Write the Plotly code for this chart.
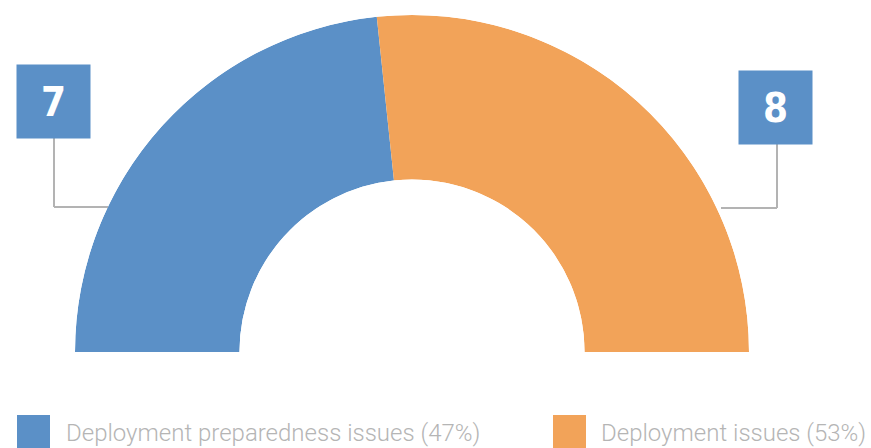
import plotly.graph_objects as go

# Data
categories = ["Deployment preparedness issues", "Deployment issues"]
counts = [7, 8]
colors = ["#5B90C7", "#F2A359"]

W, H = 871, 448
total = sum(counts)

# Half-donut geometry (pixels)
cx, cy = 412, 352          # centre of the arc
r_out = 337
hole = 0.512

fig = go.Figure()

# Each segment sweeps a share of 180 degrees, starting from the left (180 deg)
start = 180.0
for name, val, col in zip(categories, counts, colors):
    sweep = 180.0 * val / total
    fig.add_trace(go.Barpolar(
        r=[1], theta=[start - sweep / 2], width=[sweep],
        marker=dict(color=col, line=dict(width=0)),
        name=name, showlegend=False, hoverinfo="skip",
    ))
    start -= sweep

fig.update_layout(
    width=W, height=H,
    margin=dict(l=0, r=0, t=0, b=0),
    paper_bgcolor="white", plot_bgcolor="white",
    polar=dict(
        domain=dict(x=[(cx - r_out) / W, (cx + r_out) / W],
                    y=[1 - cy / H, 1 - (cy - r_out) / H]),
        sector=[0, 180],
        hole=hole,
        bgcolor="white",
        bargap=0,
        radialaxis=dict(range=[0, 1], visible=False, showgrid=False),
        angularaxis=dict(visible=False, showgrid=False, direction="counterclockwise",
                         rotation=0),
    ),
)

def px(x):
    return x / W

def py(y):
    return 1 - y / H

# Value callouts with leader lines
line_style = dict(color="#B3B3B3", width=2)
callouts = [
    # (value, box centre x, box centre y, vertical line x, elbow y, attach x)
    (counts[0], 53, 102, 54, 207, 108),
    (counts[1], 775, 107, 777, 208, 721),
]
for val, bx, by, lx, ly, ax in callouts:
    fig.add_shape(type="line", xref="paper", yref="paper",
                  x0=px(lx), y0=py(by + 35), x1=px(lx), y1=py(ly), line=line_style)
    fig.add_shape(type="line", xref="paper", yref="paper",
                  x0=px(lx), y0=py(ly), x1=px(ax), y1=py(ly), line=line_style)
    fig.add_annotation(
        xref="paper", yref="paper", x=px(bx), y=py(by),
        xanchor="center", yanchor="middle", showarrow=False,
        text=str(val), width=71, height=71, bgcolor=colors[0],
        font=dict(family="DejaVu Sans Condensed, Liberation Sans Narrow, sans-serif",
                  size=40, color="white", weight="bold"),
        valign="middle", align="center",
    )

# Custom legend with large swatches
legend_items = [(17, 64), (553, 599)]
for (sx, tx), name, val, col in zip(legend_items, categories, counts, colors):
    pct = round(100 * val / total)
    fig.add_shape(type="rect", xref="paper", yref="paper",
                  x0=px(sx), x1=px(sx + 33), y0=py(448), y1=py(415),
                  fillcolor=col, line=dict(width=0))
    fig.add_annotation(
        xref="paper", yref="paper", x=px(tx), y=py(433),
        xanchor="left", yanchor="middle", showarrow=False,
        text=f"{name} ({pct}%)",
        font=dict(family="Roboto", size=24, color="#B5B5B5", weight=300),
    )

fig.write_html("out.html")
